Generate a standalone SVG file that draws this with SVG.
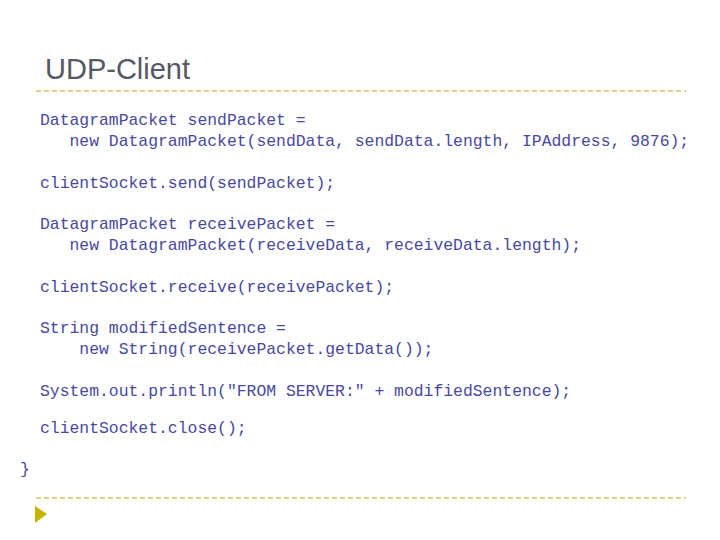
<svg xmlns="http://www.w3.org/2000/svg" width="720" height="540" viewBox="0 0 720 540">
<style>
.c{font-family:"Liberation Mono",monospace;font-size:16.4px;fill:#4848a0;white-space:pre}
.d{stroke:#d8c258;stroke-width:1.3;stroke-dasharray:5,3}
</style>
<rect width="720" height="540" fill="#fff"/>
<text x="45" y="79" font-family="Liberation Sans,Arial,sans-serif" font-size="29" fill="#565866">UDP-Client</text>
<line class="d" x1="36" y1="91" x2="686" y2="91"/>
<line class="d" x1="36" y1="498" x2="686" y2="498"/>
<polygon points="35,506 47,514 35,523" fill="#c8b400"/>
<text class="c" x="40" y="125">DatagramPacket sendPacket =</text>
<text class="c" x="40" y="146" xml:space="preserve">   new DatagramPacket(sendData, sendData.length, IPAddress, 9876);</text>
<text class="c" x="40" y="188">clientSocket.send(sendPacket);</text>
<text class="c" x="40" y="229">DatagramPacket receivePacket =</text>
<text class="c" x="40" y="250" xml:space="preserve">   new DatagramPacket(receiveData, receiveData.length);</text>
<text class="c" x="40" y="292">clientSocket.receive(receivePacket);</text>
<text class="c" x="40" y="333">String modifiedSentence =</text>
<text class="c" x="40" y="354" xml:space="preserve">    new String(receivePacket.getData());</text>
<text class="c" x="40" y="396">System.out.println("FROM SERVER:" + modifiedSentence);</text>
<text class="c" x="40" y="433">clientSocket.close();</text>
<text class="c" x="20" y="474">}</text>
</svg>
